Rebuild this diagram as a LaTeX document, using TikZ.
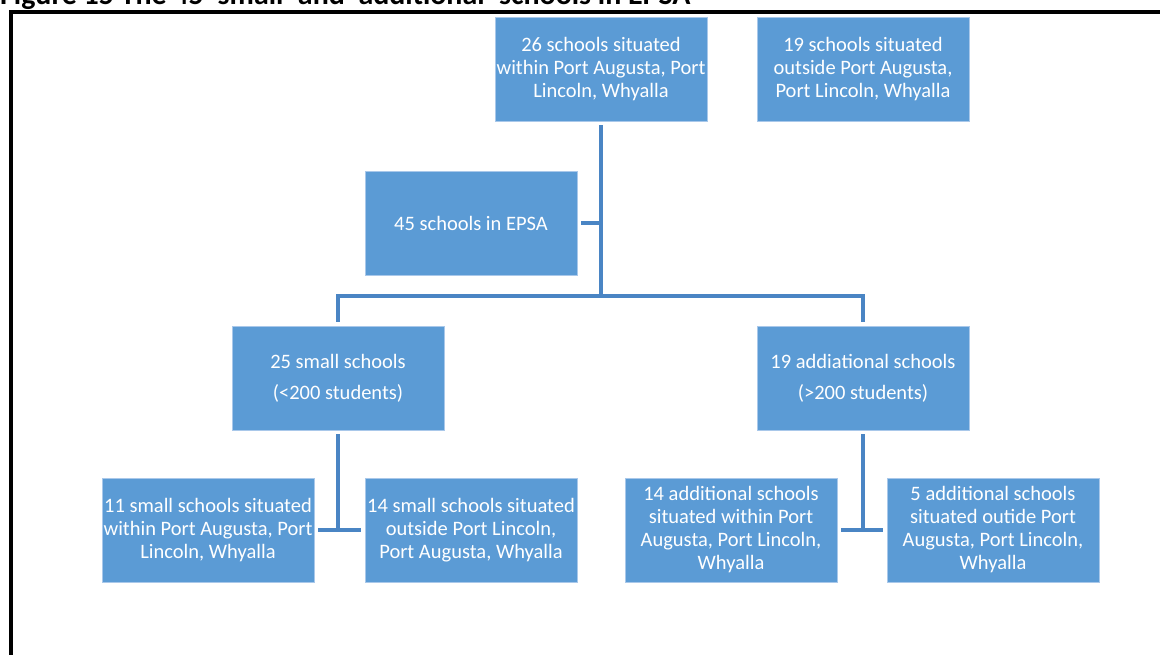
\documentclass[tikz,border=0pt]{standalone}
\usepackage{fontspec}
\setmainfont{Carlito}
\definecolor{boxblue}{HTML}{5B9BD5}
\definecolor{boxedge}{HTML}{A9C8EA}
\definecolor{linkblue}{HTML}{4A85C4}
\begin{document}
\begin{tikzpicture}[x=1pt,y=-1pt,
  box/.style={fill=boxblue, draw=boxedge, line width=0.8pt,
    minimum width=212pt, minimum height=104pt, inner sep=0pt,
    text=white, align=center, font=\fontsize{20.5}{23}\selectfont},
  widespaced/.style={font=\fontsize{20.5}{31}\selectfont},
  conn/.style={draw=linkblue, line width=4pt}]
\useasboundingbox (0,0) rectangle (1160,655);
\begin{scope}
  \clip (0,0) rectangle (1160,655);
  % caption above the frame
  \node[anchor=base west, inner sep=0pt, font=\bfseries] (caption) at (0,5)
    {\resizebox{690pt}{!}{Figure 15 The 45 ‘small’ and ‘additional’ schools in EPSA}};
  % frame
  \draw[line width=4pt] (11,700) -- (11,12) -- (1200,12);
\end{scope}

% boxes
\node[box] (within)  at (601,69)  {26 schools situated\\within Port Augusta, Port\\Lincoln, Whyalla};
\node[box] (outside) at (863,69)  {19 schools situated\\outside Port Augusta,\\Port Lincoln, Whyalla};
\node[box] (root)    at (471,223.5) {45 schools in EPSA};
\node[box, widespaced] (small) at (338,378) {25 small schools\\(<200 students)};
\node[box, widespaced] (add)   at (863,378) {19 addiational schools\\(>200 students)};
\node[box] (s1) at (208,530) {11 small schools situated\\within Port Augusta, Port\\Lincoln, Whyalla};
\node[box] (s2) at (471,530) {14 small schools situated\\outside Port Lincoln,\\Port Augusta, Whyalla};
\node[box] (a1) at (731,530) {14 additional schools\\situated within Port\\Augusta, Port Lincoln,\\Whyalla};
\node[box] (a2) at (993,530) {5 additional schools\\situated outide Port\\Augusta, Port Lincoln,\\Whyalla};

% connectors
\coordinate (hub) at (601,296);
\draw[conn] ([yshift=-4pt]within.south) -- (hub);
\draw[conn] ([xshift=4pt]root.east) -- (root.east -| within.south);
\draw[conn] (hub) -| ([yshift=4pt]small.north);
\draw[conn] (hub) -| ([yshift=4pt]add.north);

\draw[conn] ([yshift=-4pt]small.south) -- (small.south |- s1.east);
\draw[conn] ([xshift=4pt]s1.east) -- ([xshift=-4pt]s2.west);
\draw[conn] ([yshift=-4pt]add.south) -- (add.south |- a1.east);
\draw[conn] ([xshift=4pt]a1.east) -- ([xshift=-4pt]a2.west);
\end{tikzpicture}
\end{document}
